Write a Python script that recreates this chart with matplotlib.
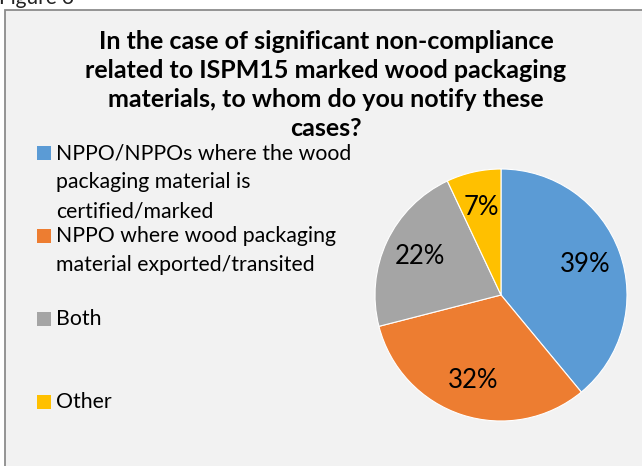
import matplotlib
matplotlib.use("Agg")
import matplotlib.pyplot as plt
from matplotlib.patches import Rectangle

# Survey responses (percent of respondents)
categories = [
    "NPPO/NPPOs where the wood\npackaging material is\ncertified/marked",
    "NPPO where wood packaging\nmaterial exported/transited",
    "Both",
    "Other",
]
shares = [39, 32, 22, 7]
colors = ["#5B9BD5", "#ED7D31", "#A5A5A5", "#FFC000"]
title = ("In the case of significant non-compliance\n"
         "related to ISPM15 marked wood packaging\n"
         "materials, to whom do you notify these\n"
         "cases?")

W, H = 642, 466
FONT = "Lato"

fig = plt.figure(figsize=(W / 100, H / 100), dpi=100, facecolor="white")


def fx(px):
    return px / W


def fy(py):
    return 1 - py / H


# Chart area frame
frame = Rectangle((fx(5), fy(H + 5)), fx(W + 10), fy(10) - fy(H + 5),
                  transform=fig.transFigure, facecolor="#F2F2F2",
                  edgecolor="#8C8C8C", linewidth=1.3, zorder=-5)
fig.patches.append(frame)

# Caption above the frame
fig.text(fx(-1), fy(4), "Figure 3", fontsize=15, family=FONT,
         color="#222222", va="baseline", ha="left")

# Title
for k, line in enumerate(title.split("\n")):
    fig.text(fx(326), fy(49 + 29 * k), line, fontsize=18, family=FONT,
             fontweight="bold", color="black", ha="center", va="baseline")

# Pie
cx, cy, r = 501, 295, 126
ax = fig.add_axes([fx(cx - r), fy(cy + r), fx(2 * r), fy(cy - r) - fy(cy + r)])
ax.set_zorder(2)
ax.patch.set_visible(False)
wedges, texts, autotexts = ax.pie(
    shares, colors=colors, startangle=90, counterclock=False, radius=1,
    autopct=lambda p: f"{p:.0f}%", pctdistance=0.71,
    wedgeprops=dict(edgecolor="white", linewidth=0.8),
    textprops=dict(fontsize=18.5, family=FONT, color="black"))
ax.set_xlim(-1, 1)
ax.set_ylim(-1, 1)
ax.set_aspect("equal")
ax.axis("off")

# Legend
slot0, slot_step, line_step = 146, 83, 29
for i, (label, wedge) in enumerate(zip(categories, wedges)):
    top = slot0 + slot_step * i
    fig.patches.append(Rectangle((fx(37), fy(top + 14)), fx(14), fy(top) - fy(top + 14),
                                 transform=fig.transFigure, zorder=1,
                                 facecolor=wedge.get_facecolor(), edgecolor="none"))
    for k, line in enumerate(label.split("\n")):
        fig.text(fx(56), fy(top + 13 + line_step * k), line, fontsize=15.3,
                 family=FONT, color="black", ha="left", va="baseline")

fig.savefig("out.png", dpi=100, facecolor=fig.get_facecolor())
